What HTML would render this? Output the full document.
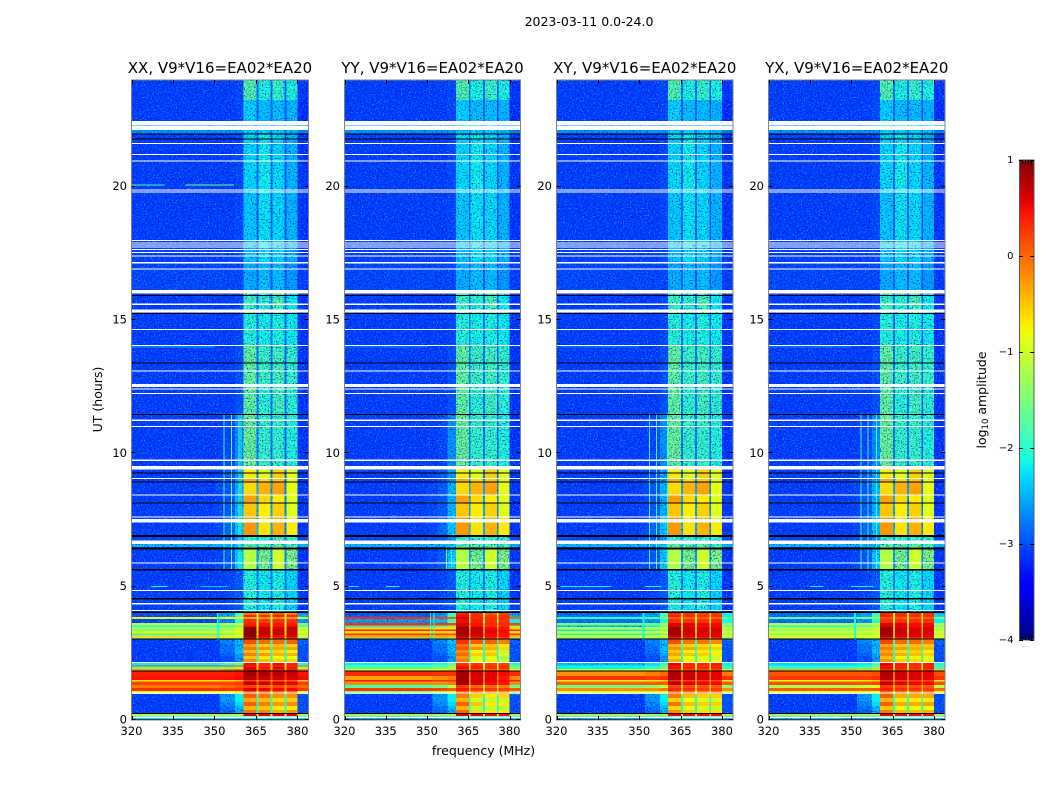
<!DOCTYPE html>
<html lang="en">
<head>
<meta charset="utf-8">
<title>2023-03-11 0.0-24.0</title>
<style>
html,body{margin:0;padding:0;background:#fff;width:1050px;height:800px;overflow:hidden}
svg{display:block}
text{font-family:"DejaVu Sans","Liberation Sans",sans-serif;fill:#000}
</style>
</head>
<body>
<svg id="figure" width="1050" height="800" viewBox="0 0 1050 800" xmlns="http://www.w3.org/2000/svg">
  <defs>
    <filter id="speckle-light" x="0" y="0" width="100%" height="100%" color-interpolation-filters="sRGB">
      <feTurbulence type="fractalNoise" baseFrequency="0.72" numOctaves="1" seed="3"/>
      <feColorMatrix type="matrix" values="0 0 0 0 0  0 0 0 0 0.62  0 0 0 0 1  4 0 0 0 -2.1"/>
    </filter>
    <filter id="speckle-dark" x="0" y="0" width="100%" height="100%" color-interpolation-filters="sRGB">
      <feTurbulence type="fractalNoise" baseFrequency="0.72" numOctaves="1" seed="11"/>
      <feColorMatrix type="matrix" values="0 0 0 0 0  0 0 0 0 0.05  0 0 0 0 0.75  4 0 0 0 -2.2"/>
    </filter>
    <linearGradient id="jet-gradient" x1="0" y1="1" x2="0" y2="0"></linearGradient>
  </defs>
  <rect x="0" y="0" width="1050" height="800" fill="#fff"/>
  <text x="589" y="26" font-size="12.5" text-anchor="middle">2023-03-11 0.0-24.0</text>
  <text x="483.5" y="755" font-size="12.5" text-anchor="middle">frequency (MHz)</text>
  <text x="102" y="399.5" font-size="12.5" text-anchor="middle" transform="rotate(-90 102 399.5)">UT (hours)</text>
  <g id="panels"></g>
  <g id="colorbar">
    <rect id="colorbar-fill" x="1019" y="160" width="15" height="480" fill="url(#jet-gradient)"/>
    <text x="986" y="400" font-size="12.5" text-anchor="middle" transform="rotate(-90 986 400)">log<tspan font-size="8.5" dy="2">10</tspan><tspan dy="-2"> amplitude</tspan></text>
    <text x="1026" y="647" font-size="5" text-anchor="middle" style="fill:#999">......</text>
  </g>
</svg>
<script>
// Axis labels
const xTickLabels = [320, 335, 350, 365, 380];
const yTickLabels = [0, 5, 10, 15, 20];
const colorbarTicks = [1, 0, -1, -2, -3, -4];
const polarisations = ["XX", "YY", "XY", "YX"];
const baselineLabel = "V9*V16=EA02*EA20";

// Frequency bin edges (MHz) for the quiet period
const freqEdges = [320, 340, 350, 354, 357.5, 360.5, 365.2, 365.9, 370.3, 371, 375.4, 376, 380, 384];

// Quiet period: time bands (hours) and log10 amplitude in each frequency bin
const quietBands = [[24,23.25],[23.25,22.46],[22.46,21.99],[21.99,19.87],[19.87,17.2],[17.2,16.1],[16.1,15.3],[15.3,14.05],[14.05,12.6],[12.6,11.5],[11.5,9.4],[9.4,9.07],[9.07,8.93],[8.93,8.44],[8.44,8.13],[8.13,7.6],[7.6,6.9],[6.9,6.6],[6.6,6.49],[6.49,5.66],[5.66,4.05]];
const quietPower = [
 [-3.1,-3.1,-3.1,-3.1,-3.05,-1.7,-2.8,-2.05,-2.8,-1.9,-2.9,-2.05,-3.15],
 [-3.1,-3.1,-3.1,-3.1,-3.05,-2.3,-2.9,-2.4,-2.9,-2.4,-3.0,-2.45,-3.2],
 [-2.65,-2.65,-2.65,-2.65,-2.65,-2.3,-2.8,-2.3,-2.8,-2.3,-2.8,-2.4,-2.75],
 [-3.1,-3.1,-3.1,-3.1,-3.05,-2.25,-2.9,-2.15,-2.9,-2.25,-3.0,-2.45,-3.15],
 [-3.1,-3.1,-3.1,-3.1,-3.05,-2.35,-2.9,-2.2,-2.9,-2.25,-3.0,-2.45,-3.15],
 [-3.05,-3.05,-3.05,-3.05,-3.05,-2.5,-2.9,-2.4,-3.0,-2.4,-3.0,-2.6,-3.1],
 [-3.1,-3.1,-3.1,-3.1,-3.05,-1.85,-2.8,-1.95,-2.8,-1.75,-2.9,-2.15,-3.15],
 [-3.1,-3.1,-3.1,-3.1,-3.05,-2.0,-2.8,-2.1,-2.8,-2.05,-2.9,-2.15,-3.15],
 [-3.1,-3.1,-3.1,-3.1,-3.0,-1.6,-2.8,-1.85,-2.8,-1.8,-2.9,-1.9,-3.15],
 [-3.1,-3.1,-3.1,-3.1,-3.0,-1.6,-2.8,-1.95,-2.8,-1.8,-2.9,-1.95,-3.15],
 [-3.1,-3.1,-3.1,-3.05,-2.65,-1.55,-2.8,-1.9,-2.8,-1.9,-2.9,-2.0,-3.15],
 [-3.1,-3.1,-3.05,-2.95,-2.55,-0.7,-2.7,-0.9,-2.7,-0.55,-2.8,-0.9,-3.15],
 [-3.1,-3.1,-3.05,-2.95,-2.55,-0.35,-2.6,-0.6,-2.6,-0.5,-2.7,-0.85,-3.15],
 [-3.1,-3.1,-3.05,-2.95,-2.45,-0.6,-2.5,-0.4,-2.5,-0.3,-2.7,-0.85,-3.15],
 [-3.1,-3.1,-3.05,-2.95,-2.45,-0.3,-2.5,-0.6,-2.5,-0.7,-2.7,-0.9,-3.15],
 [-3.1,-3.1,-3.05,-2.95,-2.45,-0.5,-2.5,-0.7,-2.5,-0.55,-2.7,-0.9,-3.15],
 [-3.1,-3.1,-3.05,-2.85,-2.35,-0.25,-2.4,-0.65,-2.5,-0.4,-2.7,-0.7,-3.15],
 [-3.05,-3.05,-3.0,-2.95,-2.65,-1.9,-2.5,-1.9,-2.5,-1.8,-2.7,-1.9,-3.05],
 [-2.45,-2.45,-2.45,-2.45,-2.35,-1.7,-2.4,-1.7,-2.4,-1.7,-2.5,-1.8,-2.45],
 [-3.1,-3.1,-3.05,-2.95,-2.35,-1.15,-2.6,-1.45,-2.6,-1.0,-2.7,-1.4,-3.15],
 [-3.1,-3.1,-3.1,-3.05,-2.95,-2.0,-2.7,-2.15,-2.8,-2.05,-2.8,-2.25,-3.15]
];

// Active period (0-4 h): time edges, frequency edges, and which value feeds each frequency bin
const activeEdges = [4.05,3.93,3.86,3.79,3.64,3.55,3.48,3.40,3.33,3.25,3.18,3.09,3.04,2.85,2.74,2.63,2.51,2.40,2.29,2.18,2.05,2.0,1.92,1.82,1.65,1.5,1.45,1.31,1.2,1.08,0.97,0.83,0.68,0.53,0.38,0.24,0.15,0];
const activeFreqEdges = [320, 352, 357.5, 360.5, 365.2, 365.9, 370.3, 371, 375.4, 376, 380, 384];
const activeColumnOrder = [0, 1, 2, 3, 7, 4, 7, 5, 7, 6, 8];

// Each row: low band, transition 1, transition 2, sub-band 1-4, sub-band gap, high edge
const powerXX = [
 [-3.0,-2.6,-1.9,-0.1,-0.1,0.1,-0.1,-1.2,-2.6],
 [-3.0,-2.4,-1.7,0.35,0.3,0.4,0.35,-1.2,-2.4],
 [-0.8,-0.8,-0.7,-0.3,-0.2,-0.2,-0.2,-0.6,-0.9],
 [-3.05,-2.7,-2.0,0.3,0.2,0.3,0.3,-1.6,-2.6],
 [-1.2,-1.2,-1.0,0.4,0.45,0.45,0.45,-0.8,-1.5],
 [-2.0,-1.9,-1.6,0.5,0.5,0.45,0.5,-1.2,-1.8],
 [-1.3,-1.2,-1.0,0.95,0.7,0.6,0.7,-0.6,-1.0],
 [-1.5,-1.3,-1.0,0.95,0.75,0.8,0.7,-0.7,-1.2],
 [-0.9,-1.0,-0.9,0.95,0.7,0.65,0.7,-0.4,-0.9],
 [-2.0,-1.6,-1.1,0.95,0.75,0.8,0.75,-0.8,-1.4],
 [-0.6,-0.7,-0.8,0.95,0.6,0.5,0.6,-0.3,-0.9],
 [-1.4,-1.3,-1.2,0.5,0.3,0.3,0.3,-0.8,-1.4],
 [-3.1,-2.7,-2.4,0.15,0.0,0.0,0.05,-2.0,-2.9],
 [-3.1,-2.8,-2.5,-0.35,-0.55,-0.45,-0.6,-1.9,-3.0],
 [-3.1,-2.8,-2.4,-0.05,-0.2,-0.3,-0.3,-2.1,-3.0],
 [-3.1,-2.8,-2.4,-0.45,-0.65,-0.6,-0.75,-2.0,-3.0],
 [-3.1,-2.9,-2.5,-0.1,-0.25,-0.4,-0.4,-2.1,-3.0],
 [-3.1,-3.0,-2.6,-0.5,-0.7,-0.75,-0.8,-2.1,-3.0],
 [-3.1,-3.0,-2.6,-0.2,-0.45,-0.55,-0.55,-2.1,-3.0],
 [-2.2,-2.0,-1.6,0.5,0.4,0.5,0.4,-1.2,-2.0],
 [0.2,0.2,0.2,0.3,0.25,0.3,0.25,-0.3,0.1],
 [-1.7,-1.6,-1.3,0.6,0.45,0.6,0.45,-0.6,-1.4],
 [-0.3,-0.2,-0.1,0.5,0.4,0.4,0.4,-0.2,-0.2],
 [0.4,0.4,0.45,0.85,0.8,0.75,0.7,0.3,0.45],
 [0.45,0.45,0.5,0.75,0.7,0.65,0.6,0.3,0.5],
 [-0.7,-0.6,-0.5,0.2,0.1,0.1,0.1,-0.5,-0.6],
 [0.2,0.2,0.25,0.75,0.7,0.65,0.6,0.1,0.25],
 [-0.1,0.0,0.1,0.2,0.1,0.2,0.15,-0.3,0.0],
 [0.3,0.3,0.3,0.6,0.55,0.5,0.5,-0.2,0.25],
 [-0.9,-0.8,-0.6,0.1,0.0,0.0,0.0,-0.7,-0.9],
 [-3.1,-2.6,-2.2,0.05,-0.05,-0.2,-0.2,-2.0,-3.0],
 [-3.1,-2.6,-2.2,-0.35,-0.45,-0.6,-0.55,-2.0,-3.0],
 [-3.1,-2.7,-2.3,0.05,-0.1,-0.25,-0.2,-2.1,-3.0],
 [-3.1,-2.8,-2.4,-0.4,-0.5,-0.7,-0.7,-2.1,-3.0],
 [-3.1,-2.9,-2.5,-0.05,-0.15,-0.35,-0.25,-2.1,-3.0],
 [-1.2,-1.2,-1.2,0.65,0.6,0.6,0.6,-0.8,-1.2],
 [-2.3,-2.3,-2.3,-2.2,-2.2,-2.2,-2.2,-2.3,-2.3]
];
const powerYY = [
 [-3.0,-2.7,-2.0,0.4,0.3,0.1,0.2,-1.0,-2.6],
 [-2.9,-2.6,-1.9,0.5,0.35,0.25,0.3,-0.9,-2.5],
 [0.3,0.2,0.0,0.6,0.35,0.3,0.3,-0.5,0.0],
 [-2.6,-2.4,-1.8,0.5,0.4,0.3,0.3,-1.4,-2.2],
 [0.3,0.25,0.2,0.6,0.45,0.35,0.3,-0.3,0.2],
 [-2.2,-2.0,-1.5,0.65,0.5,0.35,0.35,-1.0,-1.6],
 [-0.55,-0.6,-0.6,0.85,0.7,0.5,0.45,-0.3,-0.55],
 [0.35,0.3,0.25,0.85,0.7,0.55,0.5,0.0,0.3],
 [-0.6,-0.6,-0.6,0.85,0.7,0.55,0.5,-0.2,-0.6],
 [0.3,0.25,0.2,0.85,0.65,0.5,0.45,0.0,0.3],
 [-0.3,-0.3,-0.4,0.75,0.6,0.5,0.45,-0.2,-0.4],
 [-1.5,-1.4,-1.2,0.4,0.3,0.2,0.15,-0.7,-1.4],
 [-3.1,-2.7,-2.4,0.3,0.1,0.05,-0.1,-2.0,-2.9],
 [-3.1,-2.8,-2.5,-0.05,-0.55,-0.5,-0.7,-1.9,-3.0],
 [-3.1,-2.8,-2.4,0.1,-0.2,-0.35,-0.6,-2.1,-3.0],
 [-3.1,-2.8,-2.4,-0.2,-0.75,-0.65,-1.1,-2.0,-3.0],
 [-3.1,-2.9,-2.5,0.0,-0.55,-0.5,-0.9,-2.1,-3.0],
 [-3.1,-3.0,-2.6,-0.25,-0.95,-0.9,-1.25,-2.1,-3.0],
 [-3.1,-3.0,-2.6,-0.1,-0.8,-0.75,-1.05,-2.1,-3.0],
 [-2.2,-2.1,-1.7,0.3,0.25,0.2,0.2,-1.4,-2.1],
 [-1.6,-1.5,-1.3,0.4,0.35,0.25,0.3,-0.9,-1.5],
 [-1.9,-1.7,-1.3,0.5,0.4,0.3,0.3,-0.9,-1.6],
 [-0.9,-0.8,-0.6,0.3,0.2,0.1,0.1,-0.4,-0.8],
 [0.35,0.3,0.3,0.85,0.65,0.55,0.5,-0.05,0.35],
 [-0.3,-0.2,-0.1,0.85,0.6,0.55,0.45,-0.2,-0.2],
 [0.4,0.3,0.3,0.8,0.6,0.55,0.5,0.0,0.4],
 [-0.2,-0.2,-0.1,0.85,0.6,0.5,0.45,-0.2,-0.2],
 [-1.8,-1.6,-1.2,0.25,0.0,0.0,-0.1,-0.9,-1.6],
 [0.25,0.2,0.1,0.45,0.3,0.25,0.2,-0.4,0.1],
 [-1.5,-1.4,-1.1,0.0,-0.2,-0.2,-0.2,-1.0,-1.4],
 [-3.1,-2.6,-2.2,-0.1,-0.55,-0.7,-0.6,-2.0,-3.0],
 [-3.1,-2.6,-2.2,-0.4,-1.0,-1.05,-1.05,-2.0,-3.0],
 [-3.1,-2.7,-2.3,0.05,-0.5,-0.7,-0.7,-2.1,-3.0],
 [-3.1,-2.8,-2.4,-0.4,-1.05,-1.05,-1.15,-2.1,-3.0],
 [-3.1,-2.9,-2.5,0.0,-0.6,-0.7,-0.7,-2.1,-3.0],
 [-1.3,-1.3,-1.3,0.6,0.55,0.5,0.5,-0.8,-1.3],
 [-2.4,-2.4,-2.4,-2.2,-2.2,-2.2,-2.2,-2.3,-2.4]
];
const powerXY = [
 [-2.9,-2.6,-1.9,0.3,0.3,0.25,0.25,-0.6,-2.2],
 [-2.8,-2.5,-1.9,0.4,0.35,0.3,0.3,-0.6,-2.2],
 [-1.9,-1.8,-1.6,0.05,0.0,0.05,0.0,-0.7,-1.7],
 [-2.8,-2.6,-2.0,0.3,0.3,0.3,0.35,-0.9,-2.1],
 [-1.5,-1.5,-1.3,0.6,0.6,0.5,0.5,-0.5,-1.4],
 [-2.4,-2.2,-1.7,0.6,0.55,0.5,0.5,-0.6,-1.6],
 [-1.2,-1.1,-1.0,0.85,0.65,0.6,0.6,-0.4,-1.1],
 [-2.2,-2.0,-1.5,0.85,0.7,0.65,0.65,-0.5,-1.3],
 [-1.1,-1.0,-1.0,0.85,0.65,0.6,0.6,-0.3,-1.0],
 [-2.1,-2.0,-1.5,0.85,0.7,0.65,0.6,-0.4,-1.3],
 [-1.0,-1.0,-1.0,0.75,0.55,0.55,0.55,-0.3,-1.0],
 [-1.6,-1.5,-1.3,0.35,0.25,0.25,0.25,-0.7,-1.5],
 [-3.1,-2.7,-2.4,0.15,-0.05,-0.05,-0.15,-2.0,-2.9],
 [-3.1,-2.8,-2.5,-0.45,-0.6,-0.65,-0.75,-1.9,-3.0],
 [-3.1,-2.8,-2.4,-0.2,-0.3,-0.45,-0.55,-2.1,-3.0],
 [-3.1,-2.8,-2.4,-0.5,-0.75,-0.7,-0.95,-2.0,-3.0],
 [-3.1,-2.9,-2.5,-0.3,-0.5,-0.55,-0.7,-2.1,-3.0],
 [-3.1,-3.0,-2.6,-0.6,-0.85,-0.9,-1.0,-2.1,-3.0],
 [-3.1,-3.0,-2.6,-0.4,-0.7,-0.75,-0.85,-2.1,-3.0],
 [-2.4,-2.3,-1.9,0.55,0.4,0.35,0.45,-1.0,-2.2],
 [-2.1,-2.0,-1.7,0.45,0.3,0.25,0.35,-0.9,-2.0],
 [-2.2,-2.0,-1.6,0.5,0.4,0.35,0.4,-0.9,-2.0],
 [-1.1,-1.0,-0.9,0.3,0.2,0.15,0.2,-0.5,-1.0],
 [-0.2,-0.1,0.0,0.8,0.65,0.6,0.55,-0.1,-0.1],
 [0.3,0.25,0.3,0.8,0.7,0.6,0.55,0.0,0.3],
 [-0.8,-0.7,-0.6,0.3,0.2,0.2,0.15,-0.4,-0.7],
 [0.05,0.05,0.1,0.75,0.6,0.55,0.5,-0.1,0.05],
 [-1.5,-1.4,-1.1,0.2,0.15,0.1,0.05,-0.7,-1.4],
 [-0.2,-0.2,-0.1,0.35,0.3,0.25,0.25,-0.4,-0.2],
 [-1.0,-1.0,-0.9,0.0,-0.1,-0.1,-0.1,-0.8,-1.0],
 [-3.1,-2.6,-2.2,-0.1,-0.45,-0.55,-0.55,-2.0,-3.0],
 [-3.1,-2.6,-2.2,-0.55,-0.8,-0.9,-0.95,-2.0,-3.0],
 [-3.1,-2.7,-2.3,-0.05,-0.45,-0.55,-0.55,-2.1,-3.0],
 [-3.1,-2.8,-2.4,-0.6,-0.85,-0.95,-1.0,-2.1,-3.0],
 [-3.1,-2.9,-2.5,-0.2,-0.55,-0.65,-0.65,-2.1,-3.0],
 [-1.3,-1.3,-1.3,0.55,0.5,0.5,0.5,-0.8,-1.3],
 [-2.4,-2.4,-2.4,-2.2,-2.2,-2.2,-2.2,-2.3,-2.4]
];
const powerYX = [
 [-2.9,-2.6,-2.0,0.35,0.35,0.3,0.3,-0.9,-2.4],
 [-2.8,-2.5,-1.9,0.4,0.35,0.35,0.3,-0.8,-2.3],
 [-1.6,-1.5,-1.4,0.1,0.05,0.05,0.05,-0.6,-1.5],
 [-2.8,-2.6,-2.0,0.3,0.3,0.3,0.3,-1.0,-2.2],
 [-1.2,-1.2,-1.1,0.6,0.6,0.5,0.5,-0.5,-1.2],
 [-2.0,-1.9,-1.5,0.6,0.55,0.5,0.5,-0.6,-1.6],
 [-1.2,-1.1,-1.0,0.85,0.65,0.6,0.6,-0.4,-1.1],
 [-1.4,-1.3,-1.1,0.85,0.7,0.65,0.65,-0.5,-1.2],
 [-1.0,-1.0,-1.0,0.85,0.65,0.6,0.6,-0.3,-1.0],
 [-1.5,-1.4,-1.1,0.85,0.7,0.65,0.6,-0.4,-1.2],
 [-0.9,-0.9,-0.9,0.75,0.55,0.55,0.55,-0.3,-0.9],
 [-1.2,-1.2,-1.1,0.35,0.25,0.25,0.25,-0.7,-1.2],
 [-3.1,-2.7,-2.4,0.2,0.0,0.0,-0.1,-2.0,-2.9],
 [-3.1,-2.8,-2.5,-0.35,-0.55,-0.5,-0.55,-1.9,-3.0],
 [-3.1,-2.8,-2.4,-0.1,-0.25,-0.35,-0.4,-2.1,-3.0],
 [-3.1,-2.8,-2.4,-0.35,-0.6,-0.55,-0.75,-2.0,-3.0],
 [-3.1,-2.9,-2.5,-0.15,-0.35,-0.45,-0.55,-2.1,-3.0],
 [-3.1,-3.0,-2.6,-0.45,-0.75,-0.75,-0.85,-2.1,-3.0],
 [-3.1,-3.0,-2.6,-0.25,-0.55,-0.6,-0.7,-2.1,-3.0],
 [-2.3,-2.2,-1.8,0.55,0.4,0.35,0.4,-1.0,-2.1],
 [-2.0,-1.9,-1.6,0.45,0.35,0.3,0.35,-0.9,-1.9],
 [-2.0,-1.9,-1.5,0.5,0.4,0.35,0.4,-0.9,-1.9],
 [-0.4,-0.5,-0.6,0.3,0.2,0.2,0.2,-0.5,-0.6],
 [0.1,0.1,0.15,0.8,0.65,0.6,0.55,0.0,0.15],
 [0.25,0.25,0.3,0.75,0.65,0.6,0.55,0.0,0.3],
 [-0.8,-0.7,-0.6,0.3,0.2,0.2,0.15,-0.4,-0.7],
 [0.15,0.15,0.2,0.75,0.6,0.55,0.5,0.0,0.15],
 [-1.2,-1.1,-0.9,0.25,0.15,0.15,0.1,-0.5,-1.1],
 [0.05,0.05,0.1,0.4,0.3,0.3,0.25,-0.3,0.0],
 [-1.0,-1.0,-0.9,0.0,-0.1,-0.1,-0.1,-0.8,-1.0],
 [-3.1,-2.6,-2.2,0.05,-0.35,-0.35,-0.35,-2.0,-3.0],
 [-3.1,-2.6,-2.2,-0.4,-0.7,-0.7,-0.7,-2.0,-3.0],
 [-3.1,-2.7,-2.3,0.05,-0.35,-0.35,-0.3,-2.1,-3.0],
 [-3.1,-2.8,-2.4,-0.5,-0.8,-0.8,-0.8,-2.1,-3.0],
 [-3.1,-2.9,-2.5,-0.1,-0.45,-0.45,-0.4,-2.1,-3.0],
 [-1.3,-1.3,-1.3,0.55,0.5,0.5,0.5,-0.8,-1.3],
 [-2.4,-2.4,-2.4,-2.2,-2.2,-2.2,-2.2,-2.3,-2.4]
];
const powerByPol = [powerXX, powerYY, powerXY, powerYX];

// Flagged integrations (hours): blank rows and zero-valued rows
const blankRows = [[22.32,22.46],[22.13,22.29],[21.60,21.64],[21.18,21.22],[20.94,20.98],[19.85,19.89],[19.78,19.82],[17.96,18.0],[17.87,17.91],[17.8,17.84],[17.72,17.76],[17.62,17.66],[17.51,17.55],[17.38,17.42],[17.12,17.18],[16.89,16.93],[16.0,16.12],[15.57,15.61],[15.28,15.4],[14.63,14.67],[14.03,14.07],[13.07,13.11],[12.48,12.6],[12.39,12.43],[12.22,12.26],[11.22,11.26],[10.99,11.03],[9.72,9.76],[9.4,9.52],[9.03,9.07],[8.42,8.46],[7.59,7.63],[7.4,7.54],[6.6,6.74],[5.86,5.9],[4.84,4.88],[4.34,4.38],[4.08,4.12],[2.14,2.18],[0.99,1.03],[0.07,0.13]];
const zeroRows = [[21.95,22.0],[21.76,21.8],[15.9,15.94],[15.23,15.27],[13.36,13.4],[11.44,11.48],[9.24,9.28],[8.9,8.95],[8.11,8.15],[6.87,6.93],[6.4,6.46],[5.61,5.67],[4.52,4.58],[4.02,4.06],[3.02,3.06],[1.81,1.85],[0.22,0.26],[0,0.04]];

// Narrow-band interference: [MHz, from hour, to hour, amplitude]
const rfiChannelsXX = [[353.3,5.66,11.5,-2.0],[355.9,5.66,11.5,-1.7],[358.7,5.66,11.5,-1.9],[359.4,5.66,11.5,-2.1],[351,3.0,4.05,-2.1],[351.4,3.0,4.05,-2.1]];
const rfiChannelsYY = [[356.9,5.66,6.5,-1.7],[358.7,5.66,6.5,-2.0],[359.6,5.66,6.5,-2.2],[351,3.0,4.05,-2.1],[352.4,3.0,4.05,-2.1]];
const rfiChannelsXY = [[353.6,5.66,11.5,-2.0],[356,5.66,11.5,-2.0],[360,5.66,11.5,-2.0],[351.2,3.0,4.05,-2.1],[351.6,3.0,4.05,-2.1]];
const rfiChannelsYX = [[353.3,5.66,11.5,-1.9],[355.9,5.66,11.5,-2.0],[359,5.66,11.5,-2.0],[351,3.0,4.05,-2.1],[351.4,3.0,4.05,-2.1]];
const rfiChannelsByPol = [rfiChannelsXX, rfiChannelsYY, rfiChannelsXY, rfiChannelsYX];

// Narrow interference in time: [hour, from MHz, to MHz, amplitude]
const rfiRowsXX = [[20.08,320,332,-1.8],[20.08,339.5,357,-1.5],[5.02,327,333,-2.2],[5.02,345,355,-2.4],[14.0,320,350,-2.5]];
const rfiRowsYY = [[5.02,320,325,-2.2],[5.02,335,340,-2.2],[14.0,320,350,-2.7]];
const rfiRowsXY = [[5.02,320,340,-2.2],[5.02,352,358,-2.2],[14.0,320,350,-2.7]];
const rfiRowsYX = [[5.02,335,340,-2.2],[5.02,350,358,-2.2],[14.0,320,350,-2.7]];
const rfiRowsByPol = [rfiRowsXX, rfiRowsYY, rfiRowsXY, rfiRowsYX];

const SVGNS = "http://www.w3.org/2000/svg";
const panelBoxes = [{l:131.5,r:308.5},{l:344.5,r:520.5},{l:556.5,r:733},{l:768.5,r:945}];
const plotTop = 80, plotBottom = 720, timeMax = 24, freqMin = 320, freqMax = 384;
const cbarTop = 160, cbarBottom = 640, cbarMin = -4, cbarMax = 1;

function yScale(t){ return plotBottom - (t / timeMax) * (plotBottom - plotTop); }
function xScale(box, f){ return box.l + (f - freqMin) / (freqMax - freqMin) * (box.r - box.l); }
function cbarScale(v){ return cbarBottom - (v - cbarMin) / (cbarMax - cbarMin) * (cbarBottom - cbarTop); }

function interp(x, xs, ys){
  for (let i = 1; i < xs.length; i++) {
    if (x <= xs[i]) return ys[i-1] + (ys[i]-ys[i-1]) * (x-xs[i-1]) / (xs[i]-xs[i-1]);
  }
  return ys[ys.length-1];
}
function jet(t){
  const c = Math.max(0, Math.min(1, t));
  const r = interp(c,[0,.35,.66,.89,1],[0,0,1,1,.5]);
  const g = interp(c,[0,.125,.375,.64,.91,1],[0,0,1,1,0,0]);
  const b = interp(c,[0,.11,.34,.65,1],[.5,1,1,0,0]);
  return "rgb(" + Math.round(r*255) + "," + Math.round(g*255) + "," + Math.round(b*255) + ")";
}
function colorOf(v){ return jet((v - cbarMin) / (cbarMax - cbarMin)); }

function svgEl(tag, parent, attrs){
  const el = document.createElementNS(SVGNS, tag);
  for (const k in attrs) el.setAttribute(k, attrs[k]);
  parent.appendChild(el);
  return el;
}

// Colorbar gradient
const jetGradient = document.getElementById("jet-gradient");
for (let i = 0; i <= 50; i++) {
  svgEl("stop", jetGradient, {offset: (i*2) + "%", "stop-color": jet(i/50)});
}

const panelsRoot = document.getElementById("panels");

polarisations.forEach(function(pol, p){
  const box = panelBoxes[p];
  const g = svgEl("g", panelsRoot, {});
  
  

  const clipId = "quiet-clip-" + p;
  const svgDefs = document.querySelector("defs");
  const clip = svgEl("clipPath", svgDefs, {id: clipId});

  const heat = svgEl("g", g, {"shape-rendering": "crispEdges"});
  
  

  function drawCell(t0, t1, f0, f1, v, speckleBelow){
    const x0 = xScale(box, f0), x1 = xScale(box, f1);
    const y0 = yScale(t0), y1 = yScale(t1);
    const cell = svgEl("rect", heat, {x: x0, y: y0, width: x1-x0, height: y1-y0, fill: colorOf(v)});
    
    
    if (v < speckleBelow) svgEl("rect", clip, {x: x0, y: y0, width: x1-x0, height: y1-y0});
  }

  quietBands.forEach(function(band, i){
    quietPower[i].forEach(function(v, c){
      drawCell(band[0], band[1], freqEdges[c], freqEdges[c+1], v, -1.2);
    });
  });
  powerByPol[p].forEach(function(row, i){
    activeColumnOrder.forEach(function(src, c){
      drawCell(activeEdges[i], activeEdges[i+1], activeFreqEdges[c], activeFreqEdges[c+1], row[src], -2.35);
    });
  });

  const texture = svgEl("g", g, {"clip-path": "url(#" + clipId + ")"});
  
  
  svgEl("rect", texture, {x: box.l, y: plotTop, width: box.r-box.l, height: plotBottom-plotTop, filter: "url(#speckle-light)"});
  svgEl("rect", texture, {x: box.l, y: plotTop, width: box.r-box.l, height: plotBottom-plotTop, filter: "url(#speckle-dark)"});

  rfiChannelsByPol[p].forEach(function(r){
    const line = svgEl("rect", g, {x: xScale(box, r[0]), y: yScale(r[2]), width: 1, height: yScale(r[1])-yScale(r[2]), fill: colorOf(r[3]), "shape-rendering": "crispEdges"});
    
    
  });
  rfiRowsByPol[p].forEach(function(r){
    const line = svgEl("rect", g, {x: xScale(box, r[1]), y: yScale(r[0]), width: xScale(box, r[2])-xScale(box, r[1]), height: 1, fill: colorOf(r[3]), "shape-rendering": "crispEdges"});
    
    
  });

  blankRows.forEach(function(b){
    const row = svgEl("rect", g, {x: box.l, y: yScale(b[1]), width: box.r-box.l, height: yScale(b[0])-yScale(b[1]), fill: "#fff", "shape-rendering": "crispEdges"});
    
    
  });
  zeroRows.forEach(function(b){
    const row = svgEl("rect", g, {x: box.l, y: yScale(b[1]), width: box.r-box.l, height: yScale(b[0])-yScale(b[1]), fill: "#000", "shape-rendering": "crispEdges"});
    
    
  });

  const frame = svgEl("rect", g, {x: box.l, y: plotTop, width: box.r-box.l, height: plotBottom-plotTop, fill: "none", stroke: "#808080", "stroke-width": 1});
  
  

  xTickLabels.forEach(function(f){
    const x = Math.round(xScale(box, f)) + 0.5;
    const b = svgEl("line", g, {x1: x, x2: x, y1: plotBottom, y2: plotBottom-4, stroke: "#000", "stroke-width": 1});
    
    
    const t = svgEl("line", g, {x1: x, x2: x, y1: plotTop, y2: plotTop+4, stroke: "#000", "stroke-width": 1});
    
    
    const lab = svgEl("text", g, {x: xScale(box, f), y: 735, "font-size": 11.5, "text-anchor": "middle"});
    
    
    lab.textContent = String(f);
  });
  yTickLabels.forEach(function(h){
    const y = Math.round(yScale(h)) - 0.5;
    const a = svgEl("line", g, {x1: box.l, x2: box.l+4, y1: y, y2: y, stroke: "#000", "stroke-width": 1});
    
    
    const c = svgEl("line", g, {x1: box.r-4, x2: box.r, y1: y, y2: y, stroke: "#000", "stroke-width": 1});
    
    
    const lab = svgEl("text", g, {x: box.l-4.5, y: yScale(h)+3.5, "font-size": 11.5, "text-anchor": "end"});
    
    
    lab.textContent = String(h);
  });

  const title = svgEl("text", g, {x: (box.l+box.r)/2, y: 73, "font-size": 15, "text-anchor": "middle"});
  
  
  title.textContent = pol + ", " + baselineLabel;
});

// Colorbar ticks
const cbarGroup = document.getElementById("colorbar");
const cbarFrame = svgEl("rect", cbarGroup, {x: 1019.5, y: 160, width: 14.5, height: 480, fill: "none", stroke: "#555", "stroke-width": 1});


colorbarTicks.forEach(function(v){
  const y = Math.round(cbarScale(v)) + 0.5;
  const l = svgEl("line", cbarGroup, {x1: 1019, x2: 1023, y1: y, y2: y, stroke: "#000", "stroke-width": 1});
  
  
  const r = svgEl("line", cbarGroup, {x1: 1030, x2: 1034, y1: y, y2: y, stroke: "#000", "stroke-width": 1});
  
  
  const lab = svgEl("text", cbarGroup, {x: 1013.5, y: cbarScale(v)+3, "font-size": 10, "text-anchor": "end"});
  
  
  lab.textContent = v < 0 ? "\u2212" + Math.abs(v) : String(v);
});
[1022, 1025, 1028, 1031].forEach(function(x){
  const topMark = svgEl("line", cbarGroup, {x1: x+.5, x2: x+.5, y1: cbarTop, y2: cbarTop+4, stroke: "#000", "stroke-width": 1});
  
  
  const bottomMark = svgEl("line", cbarGroup, {x1: x+.5, x2: x+.5, y1: cbarBottom-4, y2: cbarBottom, stroke: "#000", "stroke-width": 1});
  
  
});
</script>
</body>
</html>
